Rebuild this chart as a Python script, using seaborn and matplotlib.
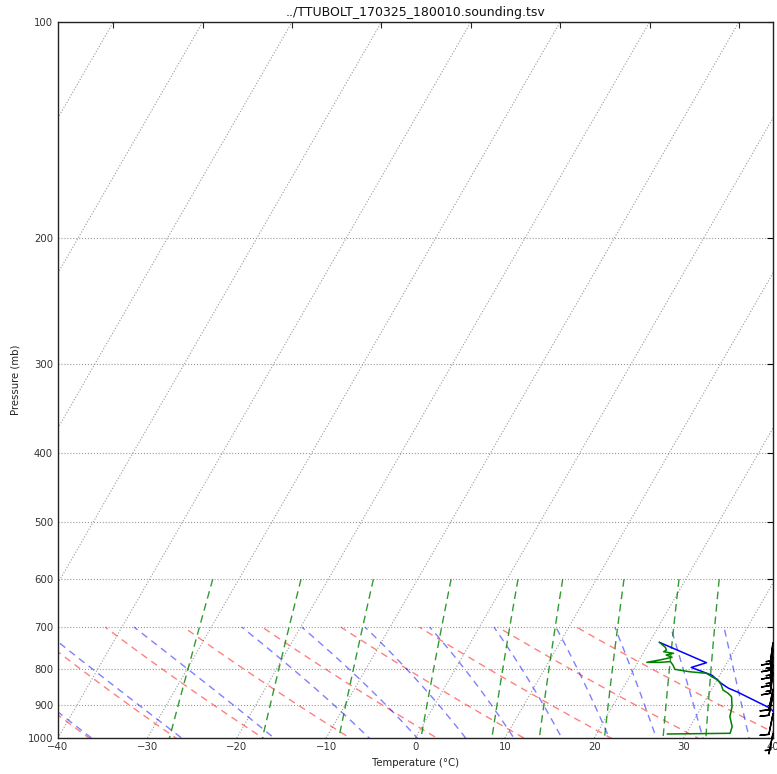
import numpy as np
import pandas as pd
import matplotlib
matplotlib.use("Agg")
import matplotlib.pyplot as plt
import seaborn as sns
from matplotlib.transforms import Affine2D
from matplotlib.ticker import FixedLocator, NullLocator, ScalarFormatter, NullFormatter

TITLE = "../TTUBOLT_170325_180010.sounding.tsv"
XLABEL = "Temperature (°C)"
YLABEL = "Pressure (mb)"

# sounding: temperature (°C) vs pressure (mb)
temp_p = [735, 785, 797, 817, 839, 852, 862, 909, 950, 985]
temp_t = [21.1, 27.7, 26.3, 29.1, 30.7, 31.8, 33.0, 37.8, 40.0, 41.5]

# dewpoint (°C) vs pressure (mb)
dew_p = [735, 747, 753.5, 757.7, 761.5, 765.7, 771.4, 778.1, 784.0, 784.0, 782.2,
         790.9, 801.9, 808.1, 812.2, 821.2, 829.9, 843.4, 856.9, 866.2, 875.6,
         904.4, 933.8, 964.3, 985.0, 987.2]
dew_t = [21.1, 22.1, 22.4, 22.2, 23.4, 22.7, 23.5, 22.3, 21.0, 22.5, 23.6,
         24.1, 24.6, 26.4, 28.4, 29.2, 30.1, 30.8, 31.3, 32.1, 32.7,
         33.4, 33.8, 34.7, 34.9, 27.9]

# wind barbs (knots)
barb_p = [736, 752, 770, 790, 810, 855, 870, 925, 985]
barb_u = [2, 2, 2, 2, 2, 2, 2, 2, 1]
barb_v = [15, 15, 15, 15, 15, 10, 10, 10, 5]

# reference line families (start temperatures in °C at the reference pressure)
ref_p0 = 1100
dry_t0 = [-40, -30, -20, -10, 0, 10, 20, 30, 40, 50]
moist_t0 = [-40, -30, -20, -10, 0, 5, 10, 15, 20, 25, 30, 35, 40, 45, 50]
mixing_w = [0.0004, 0.001, 0.002, 0.004, 0.007, 0.01, 0.016, 0.024, 0.032]
isotherms = list(range(-80, 50, 10))
p_ticks = [100, 200, 300, 400, 500, 600, 700, 800, 900, 1000]
t_ticks = [-40, -30, -20, -10, 0, 10, 20, 30, 40]
top_ticks = [-80, -70, -60, -50, -40, -30, -20, -10]

sns.set_style("white")
plt.rcParams["font.family"] = ["DejaVu Sans"]

fig = plt.figure(figsize=(7.77, 7.74), dpi=100)
ax = fig.add_axes([58 / 777, 36 / 774, 715 / 777, 716 / 774])
ax.set_yscale("log")
ax.set_xlim(-40, 40)
ax.set_ylim(1000, 100)
ax.set_autoscale_on(False)
skew = ax.transScale + (ax.transLimits + Affine2D().skew_deg(30, 0)) + ax.transAxes

# isotherm grid
for t in isotherms:
    ax.plot([t, t], [1000, 100], transform=skew, color="0.6", linestyle=":",
            linewidth=0.8, zorder=1)

# dry adiabats
pd_levels = np.linspace(ref_p0, 700, 60)
rows = []
for i, t0 in enumerate(dry_t0):
    tt = (t0 + 273.15) * (pd_levels / ref_p0) ** 0.2857 - 273.15
    rows += [dict(line=i, T=a, p=b) for a, b in zip(tt, pd_levels)]
dry_df = pd.DataFrame(rows)

# moist adiabats (RK4 integration)
Rd, Cp, Lv, eps = 287.04, 1005.7, 2.501e6, 0.622


def sat_mr(T, p):
    es = 6.112 * np.exp(17.67 * (T - 273.15) / (T - 29.65))
    return eps * es / (p - es)


def dtdp(T, p):
    rs = sat_mr(T, p)
    return (Rd * T + Lv * rs) / (Cp + Lv * Lv * rs * eps / (Rd * T * T)) / p


pm = np.linspace(ref_p0, 700, 161)
rows = []
for i, t0 in enumerate(moist_t0):
    T = t0 + 273.15
    out = [T]
    for k in range(len(pm) - 1):
        h = pm[k + 1] - pm[k]
        p0 = pm[k]
        k1 = dtdp(T, p0)
        k2 = dtdp(T + h * k1 / 2, p0 + h / 2)
        k3 = dtdp(T + h * k2 / 2, p0 + h / 2)
        k4 = dtdp(T + h * k3, p0 + h)
        T = T + h * (k1 + 2 * k2 + 2 * k3 + k4) / 6
        out.append(T)
    rows += [dict(line=i, T=a - 273.15, p=b) for a, b in zip(out, pm)]
moist_df = pd.DataFrame(rows)

# mixing ratio lines
pw = np.linspace(600, ref_p0, 60)
rows = []
for i, w in enumerate(mixing_w):
    e = pw * w / (eps + w)
    l = np.log(e / 6.112)
    td = 243.5 * l / (17.67 - l)
    rows += [dict(line=i, T=a, p=b) for a, b in zip(td, pw)]
mix_df = pd.DataFrame(rows)

common = dict(x="T", y="p", units="line", estimator=None, sort=False,
              transform=skew, linewidth=1.0, legend=False)
sns.lineplot(data=dry_df, color="r", alpha=0.5, linestyle=(0, (5, 3.8)), ax=ax, **common)
sns.lineplot(data=moist_df, color="b", alpha=0.5, linestyle=(0, (5, 3.8)), ax=ax, **common)
sns.lineplot(data=mix_df, color=(0, 0.5, 0), alpha=0.8, linestyle=(0, (5.5, 3.5)), ax=ax, **common)

# sounding profiles
sns.lineplot(x=temp_t, y=temp_p, sort=False, estimator=None, color="b",
             linewidth=1.1, transform=skew, ax=ax)
sns.lineplot(x=dew_t, y=dew_p, sort=False, estimator=None, color=(0, 0.5, 0),
             linewidth=1.1, transform=skew, ax=ax)

# wind barbs on right edge
ax.barbs(np.ones(len(barb_p)), barb_p, barb_u, barb_v, length=5.5,
         transform=ax.get_yaxis_transform(which="tick2"), clip_on=False,
         color="k", linewidth=1.0, zorder=5)

# axes formatting
ax.set_xlim(-40, 40)
ax.set_ylim(1000, 100)
ax.yaxis.set_major_locator(FixedLocator(p_ticks))
ax.yaxis.set_major_formatter(ScalarFormatter())
ax.yaxis.set_minor_locator(NullLocator())
ax.yaxis.set_minor_formatter(NullFormatter())
ax.xaxis.set_major_locator(FixedLocator(t_ticks))
ax.yaxis.grid(True, color="0.6", linestyle=":", linewidth=0.8)
ax.xaxis.grid(False)
ax.tick_params(axis="both", direction="in", length=4, width=0.8,
               labelsize=7.3, colors="k", labelcolor="#333333", right=True)
ax.tick_params(axis="x", pad=3)
for s in ax.spines.values():
    s.set_color("#222222")
    s.set_linewidth(1.0)

sec = ax.secondary_xaxis("top", functions=(lambda t: t - 46.19, lambda t: t + 46.19))
sec.xaxis.set_major_locator(FixedLocator(top_ticks))
sec.tick_params(direction="in", length=4, width=0.8, labeltop=False)
sec.spines["top"].set_visible(False)

ax.set_xlabel(XLABEL, fontsize=7.3, color="#222222", labelpad=4)
ax.set_ylabel(YLABEL, fontsize=7.3, color="#222222", labelpad=5)
ax.set_title(TITLE, fontsize=9, color="#111111", pad=4)

fig.savefig("out.png", dpi=100)
